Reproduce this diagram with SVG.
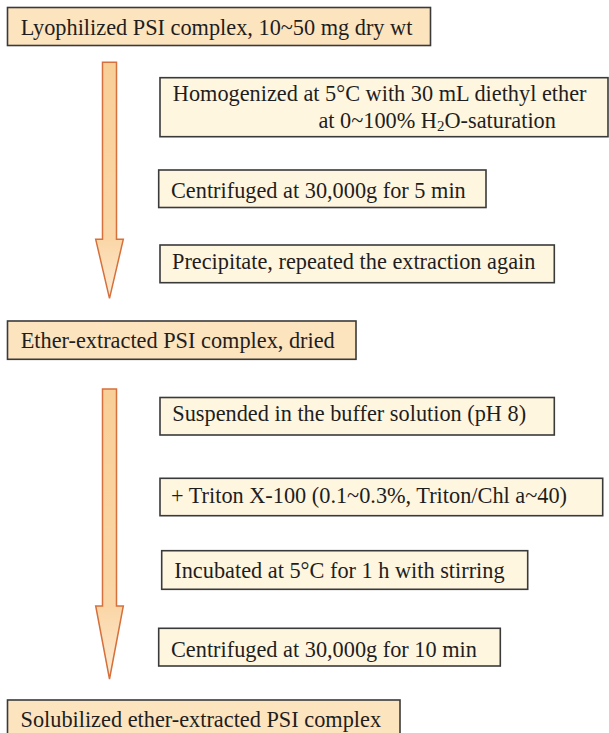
<svg xmlns="http://www.w3.org/2000/svg" width="609" height="733" viewBox="0 0 609 733">
<defs>
<linearGradient id="ag" x1="0" y1="0" x2="0" y2="1">
<stop offset="0" stop-color="#F9CF98"/>
<stop offset="0.75" stop-color="#FAD6A6"/>
<stop offset="1" stop-color="#FDEBD3"/>
</linearGradient>
<style>
.main{fill:#FCE4BF;stroke:#3A3A3A;stroke-width:1.6}
.sub{fill:#FFF6E0;stroke:#3A3A3A;stroke-width:1.6}
.arrow{fill:url(#ag);stroke:#D6703C;stroke-width:1.5;stroke-linejoin:miter}
text{font-family:"Liberation Serif","Times New Roman",serif;font-size:22.3px;fill:#1E1E1E}
.s{font-size:15px}
</style>
</defs>
<rect width="609" height="733" fill="#FFFFFF"/>
<g id="connectors">
<path class="arrow" d="M102.5,62.3 H116.5 V239.3 H123.3 L109.5,298.3 L95.7,239.3 H102.5 Z"/>
<path class="arrow" d="M102.5,389 H116.5 V606 H123.3 L109.5,679 L95.7,606 H102.5 Z"/>
</g>
<g id="n1"><rect class="main" x="7.5" y="7.5" width="423" height="38"/><text x="20.7" y="35">Lyophilized PSI complex, 10~50 mg dry wt</text></g>
<g id="n2"><rect class="sub" x="160" y="77.7" width="448" height="59"/><text x="172.8" y="101">Homogenized at 5°C with 30 mL diethyl ether</text><text x="318.4" y="127.7">at 0~100% H<tspan class="s" dy="3">2</tspan><tspan dy="-3">O-saturation</tspan></text></g>
<g id="n3"><rect class="sub" x="158.7" y="170" width="327.3" height="37.5"/><text x="171" y="197.5">Centrifuged at 30,000g for 5 min</text></g>
<g id="n4"><rect class="sub" x="160" y="245" width="394.3" height="37.7"/><text x="172" y="269">Precipitate, repeated the extraction again</text></g>
<g id="n5"><rect class="main" x="7.5" y="321" width="348.5" height="38.3"/><text x="20.7" y="348.3">Ether-extracted PSI complex, dried</text></g>
<g id="n6"><rect class="sub" x="160" y="397.5" width="394.3" height="37.5"/><text x="172.3" y="420.7">Suspended in the buffer solution (pH 8)</text></g>
<g id="n7"><rect class="sub" x="160" y="478.3" width="442.7" height="37.4"/><text x="171" y="502.7">+ Triton X-100 (0.1~0.3%, Triton/Chl a~40)</text></g>
<g id="n8"><rect class="sub" x="161.7" y="550.7" width="366" height="38.6"/><text x="174.3" y="578.3">Incubated at 5°C for 1 h with stirring</text></g>
<g id="n9"><rect class="sub" x="158.7" y="628.3" width="341.6" height="37.7"/><text x="171" y="656.7">Centrifuged at 30,000g for 10 min</text></g>
<g id="n10"><rect class="main" x="7.5" y="700" width="392.5" height="40"/><text x="20.5" y="726.7">Solubilized ether-extracted PSI complex</text></g>
</svg>
